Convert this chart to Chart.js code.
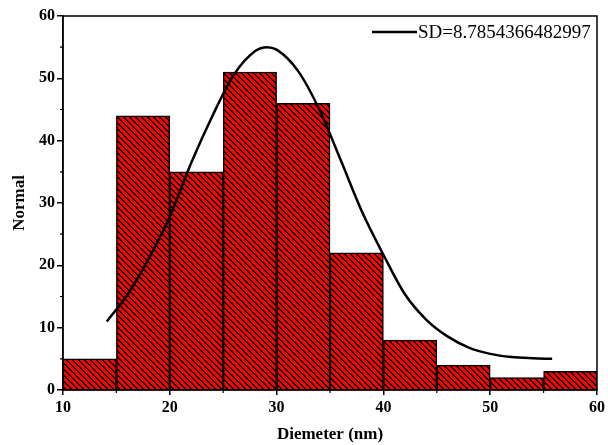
<!DOCTYPE html>
<html>
<head>
<meta charset="utf-8">
<script src="https://cdn.jsdelivr.net/npm/chart.js@4"></script>
<style>
  html, body { margin: 0; padding: 0; background: #fff; }
  #wrap { width: 608px; height: 445px; position: relative; }
</style>
</head>
<body>
<div id="wrap"><canvas id="c" width="608" height="445"></canvas></div>
<script>
// ---- data ----
const binCenters = [12.5, 17.5, 22.5, 27.5, 32.5, 37.5, 42.5, 47.5, 52.5, 57.5];
const binCounts  = [5, 44, 35, 51, 46, 22, 8, 4, 2, 3];
const curveX = [14.1, 16, 18, 20, 22, 24, 26, 28, 29.1, 30, 32, 34, 36, 38, 40, 42, 44, 46, 48, 50, 52, 54, 55.8];
const curveY = [11.0, 15.2, 21.0, 27.8, 36.4, 44.0, 50.6, 54.4, 55.0, 54.6, 51.2, 45.0, 36.9, 28.6, 21.7, 15.4, 11.3, 8.6, 6.8, 5.8, 5.3, 5.1, 5.0];
const xTicks = [10, 20, 30, 40, 50, 60];
const yTicks = [0, 10, 20, 30, 40, 50, 60];
const legendLabel = 'SD=8.7854366482997';
const xTitle = 'Diemeter (nm)';
const yTitle = 'Normal';

// ---- hatch pattern ----
function makeHatch() {
  const p = 6;
  const cv = document.createElement('canvas');
  cv.width = p; cv.height = p;
  const cx = cv.getContext('2d');
  const img = cx.createImageData(p, p);
  for (let y = 0; y < p; y++) {
    for (let x = 0; x < p; x++) {
      const k = (((x - y) % p) + p) % p;
      const i = (y * p + x) * 4;
      const black = k < 2;
      img.data[i] = black ? 0 : 255;
      img.data[i + 1] = 0;
      img.data[i + 2] = 0;
      img.data[i + 3] = 255;
    }
  }
  cx.putImageData(img, 0, 0);
  return document.getElementById('c').getContext('2d').createPattern(cv, 'repeat');
}
const hatch = makeHatch();

const serif = '"Liberation Serif", "Times New Roman", serif';

const framePlugin = {
  id: 'frame',
  afterDraw(chart) {
    const {ctx, chartArea: a, scales} = chart;
    ctx.save();
    ctx.strokeStyle = '#000';
    ctx.lineWidth = 1.5;
    ctx.strokeRect(a.left, a.top, a.right - a.left, a.bottom - a.top);
    // minor ticks
    ctx.lineWidth = 1.2;
    ctx.beginPath();
    for (let v = 5; v < 60; v += 10) {
      const y = scales.y.getPixelForValue(v);
      ctx.moveTo(a.left, y); ctx.lineTo(a.left - 3, y);
    }
    for (let v = 15; v < 60; v += 10) {
      const x = scales.x.getPixelForValue(v);
      ctx.moveTo(x, a.bottom); ctx.lineTo(x, a.bottom + 3);
    }
    ctx.stroke();
    // legend
    const ly = 32;
    ctx.lineWidth = 2.5;
    ctx.beginPath();
    ctx.moveTo(372, ly); ctx.lineTo(417, ly);
    ctx.stroke();
    ctx.fillStyle = '#000';
    ctx.font = '19px ' + serif;
    ctx.textBaseline = 'middle';
    ctx.textAlign = 'left';
    ctx.fillText(chart.data.datasets[0].label, 418, ly + 1);
    ctx.restore();
  }
};

new Chart(document.getElementById('c'), {
  type: 'bar',
  data: {
    datasets: [
      {
        type: 'line',
        label: legendLabel,
        data: curveX.map((x, i) => ({x, y: curveY[i]})),
        borderColor: '#000',
        borderWidth: 2.5,
        pointRadius: 0,
        fill: false,
        cubicInterpolationMode: 'monotone',
        order: 0
      },
      {
        type: 'bar',
        label: 'counts',
        data: binCenters.map((x, i) => ({x, y: binCounts[i]})),
        backgroundColor: hatch,
        borderColor: '#000',
        borderWidth: 1.5,
        barPercentage: 1,
        categoryPercentage: 1,
        order: 1
      }
    ]
  },
  options: {
    responsive: false,
    animation: false,
    devicePixelRatio: 1,
    layout: { padding: { top: 16, right: 8, left: 0, bottom: 0 } },
    plugins: { legend: { display: false }, tooltip: { enabled: false } },
    scales: {
      x: {
        type: 'linear',
        min: 10, max: 60,
        offset: false,
        afterBuildTicks(s) { s.ticks = xTicks.map(v => ({value: v})); },
        afterFit(s) { s.height = 55; },
        grid: { offset: false, drawOnChartArea: false, drawTicks: true, tickLength: 5, color: '#000', lineWidth: 1.5 },
        border: { display: true, color: '#000', width: 1.5 },
        ticks: { color: '#000', font: { family: serif, size: 16, weight: 'bold' }, padding: 3, maxRotation: 0 },
        title: { display: true, text: xTitle, color: '#000', font: { family: serif, size: 17, weight: 'bold' }, padding: { top: 0, bottom: 0 } }
      },
      y: {
        min: 0, max: 60,
        afterBuildTicks(s) { s.ticks = yTicks.map(v => ({value: v})); },
        afterFit(s) { s.width = 63; },
        grid: { drawOnChartArea: false, drawTicks: true, tickLength: 6, color: '#000', lineWidth: 1.5 },
        border: { display: true, color: '#000', width: 1.5 },
        ticks: { color: '#000', font: { family: serif, size: 16, weight: 'bold' }, padding: 2 },
        title: { display: true, text: yTitle, color: '#000', font: { family: serif, size: 17, weight: 'bold' }, padding: { top: 9, bottom: 0 } }
      }
    }
  },
  plugins: [framePlugin]
});
</script>
</body>
</html>
